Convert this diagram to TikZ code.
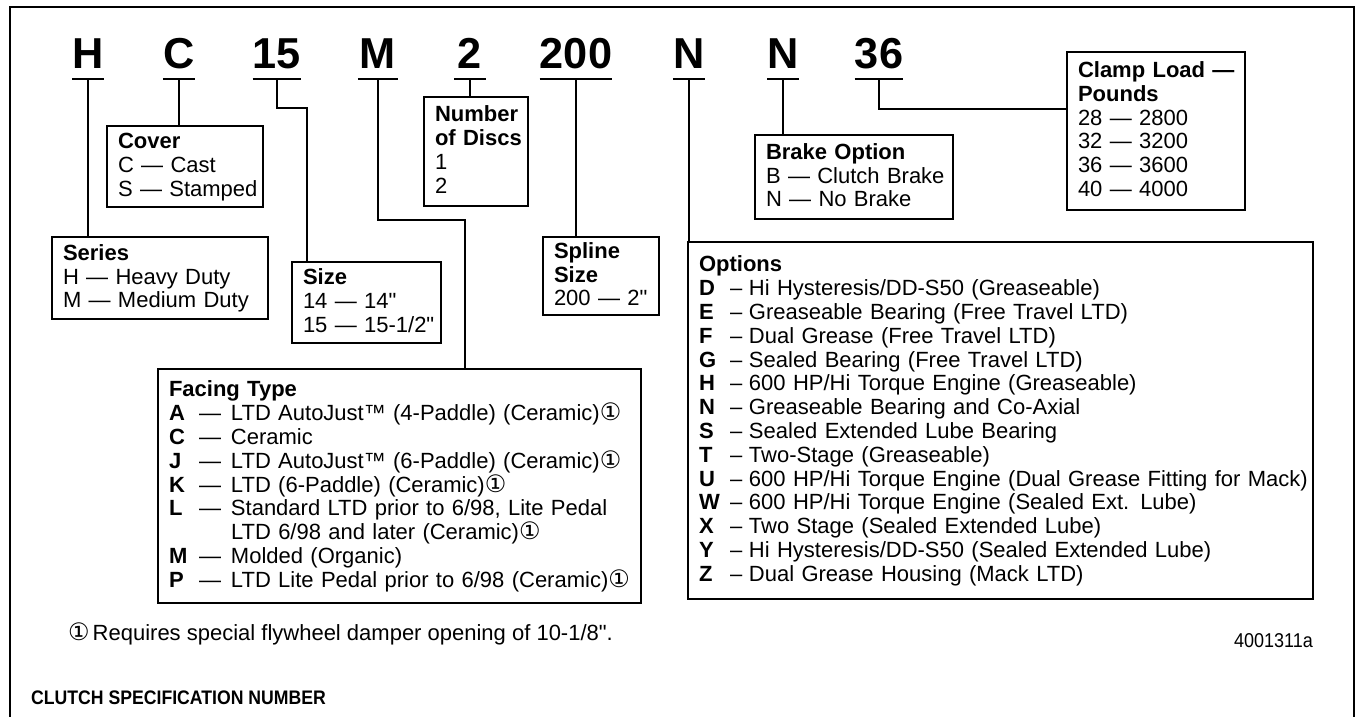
\documentclass[tikz,border=0pt]{standalone}
\usepackage{array}
\usepackage{fontspec}
\setmainfont{Liberation Sans}[Ligatures=TeXOff]
\newfontfamily\condfont[FakeStretch=0.9,Ligatures=TeXOff]{Liberation Sans}
\newfontfamily\symfont{DejaVu Sans}
\setlength{\extrarowheight}{4.3pt}
\newcommand{\cone}{{\symfont\fontsize{24}{24}\selectfont ①}}
\newcommand{\optitem}[2]{\makebox[31pt][l]{\bfseries #1}\makebox[19pt][l]{–}#2}
\newcommand{\facitem}[2]{\makebox[30pt][l]{\bfseries #1}\makebox[32pt][l]{—}#2}

\begin{document}
\begin{tikzpicture}[x=1pt, y=-1pt,
        code/.style = {font=\fontsize{43.3}{44}\selectfont\bfseries, inner xsep=0pt, inner ysep=10pt, text depth=0pt, anchor=base},
        box/.style = {draw, line width=2.2pt, anchor=north west, align=left, inner xsep=11pt, inner ysep=0pt, outer sep=0pt, font=\fontsize{22}{19.5}\selectfont},
        wire/.style = {line width=1.8pt},
        uline/.style = {line width=2.4pt}]
        \useasboundingbox (0,0) rectangle (1358,717);
        \draw[line width=2.6pt] (10,717) |- (1354,7) -- (1354,717);
        \node[code, minimum width=31pt] (1) at (88,69) {H};
        \node[code, minimum width=32pt] (2) at (179,69) {C};
        \node[code, minimum width=38pt] (3) at (277,69) {15};
        \node[code, minimum width=40pt] (4) at (378,69) {M};
        \node[code, minimum width=31pt] (5) at (470,69) {2};
        \node[code, minimum width=70pt] (6) at (576,69) {200};
        \node[code, minimum width=32pt] (7) at (689,69) {N};
        \node[code, minimum width=31pt] (8) at (783,69) {N};
        \node[code, minimum width=42pt] (9) at (879,69) {36};
        \foreach \n in {1,...,9}
            \draw[uline] (\n.south west) -- (\n.south east);
        \node[box, text width=194pt, minimum height=82pt] (series) at (52,237)
            {\begin{tabular}{@{}l@{}}\textbf{Series}\\H — Heavy Duty\\M — Medium Duty\end{tabular}};
        \node[box, text width=134pt, minimum height=81pt] (cover) at (107,126)
            {\begin{tabular}{@{}l@{}}\textbf{Cover}\\C — Cast\\S — Stamped\end{tabular}};
        \node[box, text width=127pt, minimum height=81pt] (size) at (292,262)
            {\begin{tabular}{@{}l@{}}\textbf{Size}\\14 — 14"\\15 — 15-1/2"\end{tabular}};
        \node[box, text width=82pt, minimum height=109pt] (discs) at (424,97)
            {\begin{tabular}{@{}l@{}}\textbf{Number}\\\textbf{of Discs}\\1\\2\end{tabular}};
        \node[box, text width=94pt, minimum height=78pt] (spline) at (543,237)
            {\begin{tabular}{@{}l@{}}\textbf{Spline}\\\textbf{Size}\\200 — 2"\end{tabular}};
        \node[box, text width=176pt, minimum height=84pt] (brake) at (755,135)
            {\begin{tabular}{@{}l@{}}\textbf{Brake Option}\\B — Clutch Brake\\N — No Brake\end{tabular}};
        \node[box, text width=156pt, minimum height=158pt] (clamp) at (1067,52)
            {\begin{tabular}{@{}l@{}}\textbf{Clamp Load —}\\\textbf{Pounds}\\28 — 2800\\32 — 3200\\36 — 3600\\40 — 4000\end{tabular}};
        \node[box, text width=603pt, minimum height=357pt] (options) at (688,242)
            {\begin{tabular}{@{}l@{}}\textbf{Options}\\
            \optitem{D}{Hi Hysteresis/DD-S50 (Greaseable)}\\
            \optitem{E}{Greaseable Bearing (Free Travel LTD)}\\
            \optitem{F}{Dual Grease (Free Travel LTD)}\\
            \optitem{G}{Sealed Bearing (Free Travel LTD)}\\
            \optitem{H}{600 HP/Hi Torque Engine (Greaseable)}\\
            \optitem{N}{Greaseable Bearing and Co-Axial}\\
            \optitem{S}{Sealed Extended Lube Bearing}\\
            \optitem{T}{Two-Stage (Greaseable)}\\
            \optitem{U}{600 HP/Hi Torque Engine (Dual Grease Fitting for Mack)}\\
            \optitem{W}{600 HP/Hi Torque Engine (Sealed Ext. Lube)}\\
            \optitem{X}{Two Stage (Sealed Extended Lube)}\\
            \optitem{Y}{Hi Hysteresis/DD-S50 (Sealed Extended Lube)}\\
            \optitem{Z}{Dual Grease Housing (Mack LTD)}\end{tabular}};
        \node[box, text width=461pt, minimum height=234pt] (facing) at (158,369)
            {\begin{tabular}{@{}l@{}}\textbf{Facing Type}\\
            \facitem{A}{LTD AutoJust™ (4-Paddle) (Ceramic)\cone}\\
            \facitem{C}{Ceramic}\\
            \facitem{J}{LTD AutoJust™ (6-Paddle) (Ceramic)\cone}\\
            \facitem{K}{LTD (6-Paddle) (Ceramic)\cone}\\
            \facitem{L}{Standard LTD prior to 6/98, Lite Pedal}\\
            \hspace*{62pt}LTD 6/98 and later (Ceramic)\cone\\
            \facitem{M}{Molded (Organic)}\\
            \facitem{P}{LTD Lite Pedal prior to 6/98 (Ceramic)\cone}\end{tabular}};
        \draw[wire] (1.south) -- (series.north -| 1.south);
        \draw[wire] (2.south) -- (cover.north -| 2.south);
        \draw[wire] (3.south) -- ++(0,29) -| ([xshift=15pt]size.north west);
        \draw[wire] (4.south) -- ++(0,141) -| ([xshift=307pt]facing.north west);
        \draw[wire] (5.south) -- (discs.north -| 5.south);
        \draw[wire] (6.south) -- (spline.north -| 6.south);
        \draw[wire] (7.south) -- (options.north -| 7.south);
        \draw[wire] (8.south) -- (brake.north -| 8.south);
        \draw[wire] (9.south) |- ([yshift=22pt]clamp.west);
        \node[anchor=base west, inner sep=0pt, font=\fontsize{22}{24}\selectfont] (note) at (68,640)
            {\cone\hspace{3pt}Requires special flywheel damper opening of 10-1/8".};
        \node[anchor=base east, inner sep=0pt, font=\fontsize{20}{21}\selectfont\condfont] (fig) at (1313,647) {4001311a};
        \node[anchor=base west, inner sep=0pt, font=\fontsize{19.6}{21}\selectfont\condfont\bfseries] (title) at (31,704)
            {CLUTCH SPECIFICATION NUMBER};
\end{tikzpicture}
\end{document}
